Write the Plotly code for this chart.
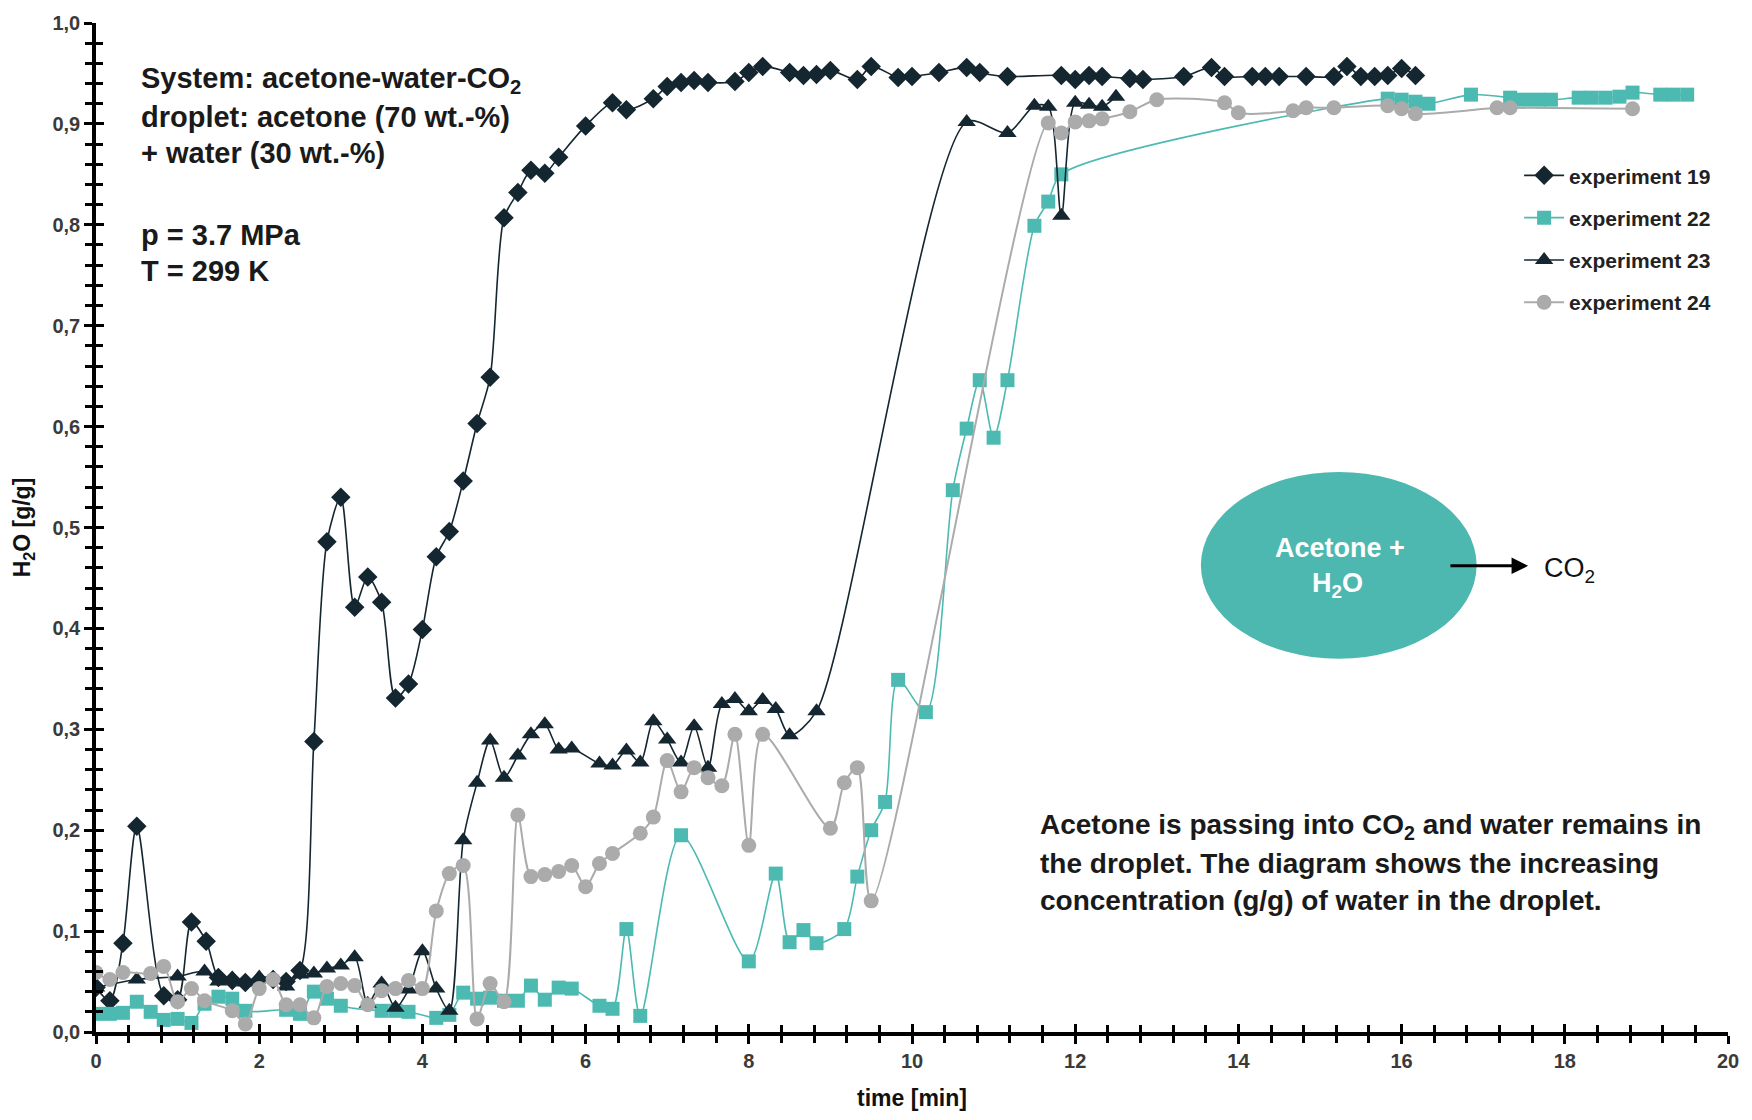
import plotly.graph_objects as go

# ---------------- data ----------------
exp19_t = [0.0, 0.17, 0.33, 0.5, 0.83, 1.0, 1.17, 1.35, 1.5, 1.67, 1.83, 2.0, 2.17, 2.33, 2.5,
           2.67, 2.83, 3.0, 3.17, 3.33, 3.5, 3.67, 3.83, 4.0, 4.17, 4.33, 4.5, 4.67, 4.83, 5.0,
           5.17, 5.33, 5.5, 5.67, 6.0, 6.33, 6.5, 6.83, 7.0, 7.17, 7.33, 7.5, 7.83, 8.0, 8.17,
           8.5, 8.67, 8.83, 9.0, 9.33, 9.5, 9.83, 10.0, 10.33, 10.67, 10.83, 11.17, 11.83, 12.0,
           12.17, 12.33, 12.67, 12.83, 13.33, 13.67, 13.83, 14.17, 14.33, 14.5, 14.83, 15.17,
           15.33, 15.5, 15.67, 15.83, 16.0, 16.17]
exp19_y = [0.044, 0.031, 0.088, 0.204, 0.036, 0.032, 0.109, 0.090, 0.054, 0.051, 0.049, 0.051, 0.052, 0.050, 0.061,
           0.288, 0.486, 0.530, 0.421, 0.451, 0.426, 0.331, 0.345, 0.399, 0.471, 0.496, 0.546, 0.603, 0.649, 0.807,
           0.832, 0.854, 0.851, 0.867, 0.898, 0.921, 0.914, 0.925, 0.937, 0.941, 0.943, 0.941, 0.942, 0.951, 0.957,
           0.951, 0.948, 0.949, 0.953, 0.944, 0.957, 0.946, 0.947, 0.951, 0.956, 0.951, 0.947, 0.948, 0.944,
           0.948, 0.947, 0.945, 0.944, 0.947, 0.956, 0.947, 0.947, 0.947, 0.947, 0.947, 0.947,
           0.957, 0.947, 0.947, 0.948, 0.955, 0.948]

exp22_t = [0.0, 0.17, 0.33, 0.5, 0.67, 0.83, 1.0, 1.17, 1.33, 1.5, 1.67, 1.83, 2.33, 2.5, 2.67, 2.83,
           3.0, 3.5, 3.67, 3.83, 4.17, 4.33, 4.5, 4.67, 4.83, 5.0, 5.17, 5.33, 5.5, 5.67, 5.83,
           6.17, 6.33, 6.5, 6.67, 7.17, 8.0, 8.33, 8.5, 8.67, 8.83, 9.17, 9.33, 9.5, 9.67, 9.83,
           10.17, 10.5, 10.67, 10.83, 11.0, 11.17, 11.5, 11.67, 11.83, 15.83, 16.0, 16.17, 16.33,
           16.85, 17.33, 17.5, 17.67, 17.83, 18.17, 18.33, 18.5, 18.67, 18.83, 19.17, 19.33, 19.5]
exp22_y = [0.018, 0.018, 0.019, 0.030, 0.020, 0.012, 0.013, 0.009, 0.028, 0.035, 0.033, 0.021, 0.022, 0.018, 0.040, 0.033,
           0.026, 0.021, 0.021, 0.020, 0.014, 0.017, 0.039, 0.033, 0.034, 0.031, 0.031, 0.046, 0.032, 0.044, 0.043,
           0.026, 0.023, 0.102, 0.016, 0.195, 0.070, 0.157, 0.089, 0.101, 0.088, 0.102, 0.154, 0.200, 0.228, 0.349,
           0.317, 0.537, 0.598, 0.646, 0.589, 0.646, 0.799, 0.823, 0.850, 0.925, 0.924, 0.922, 0.920,
           0.929, 0.926, 0.924, 0.924, 0.924, 0.926, 0.926, 0.926, 0.927, 0.931, 0.929, 0.929, 0.929]

exp23_t = [0.0, 0.5, 1.0, 1.33, 1.5, 1.67, 1.83, 2.0, 2.17, 2.33, 2.5, 2.67, 2.83, 3.0, 3.17,
           3.33, 3.5, 3.67, 3.83, 4.0, 4.17, 4.33, 4.5, 4.67, 4.83, 5.0, 5.17, 5.33, 5.5, 5.67,
           5.83, 6.17, 6.33, 6.5, 6.67, 6.83, 7.0, 7.17, 7.33, 7.5, 7.67, 7.83, 8.0, 8.17, 8.33,
           8.5, 8.83, 10.67, 11.17, 11.5, 11.67, 11.83, 12.0, 12.17, 12.33, 12.5]
exp23_y = [0.044, 0.052, 0.055, 0.060, 0.050, 0.053, 0.049, 0.054, 0.053, 0.045, 0.057, 0.058, 0.063, 0.066, 0.074,
           0.028, 0.048, 0.024, 0.042, 0.080, 0.043, 0.021, 0.190, 0.247, 0.289, 0.252, 0.274, 0.295, 0.305, 0.280,
           0.281, 0.266, 0.264, 0.279, 0.267, 0.308, 0.290, 0.267, 0.303, 0.262, 0.325, 0.330, 0.318, 0.329, 0.320,
           0.294, 0.318, 0.902, 0.891, 0.918, 0.917, 0.809, 0.921, 0.919, 0.917, 0.927]

exp24_t = [0.0, 0.17, 0.33, 0.67, 0.83, 1.0, 1.17, 1.33, 1.67, 1.83, 2.0, 2.17, 2.33, 2.5, 2.67,
           2.83, 3.0, 3.17, 3.33, 3.5, 3.67, 3.83, 4.0, 4.17, 4.33, 4.5, 4.67, 4.83, 5.0, 5.17,
           5.33, 5.5, 5.67, 5.83, 6.0, 6.17, 6.33, 6.67, 6.83, 7.0, 7.17, 7.33, 7.5, 7.67, 7.83,
           8.0, 8.17, 9.0, 9.17, 9.33, 9.5, 11.67, 11.83, 12.0, 12.17, 12.33, 12.67, 13.0, 13.83,
           14.0, 14.67, 14.83, 15.17, 15.83, 16.0, 16.17, 17.17, 17.33, 18.83]
exp24_y = [0.059, 0.052, 0.059, 0.058, 0.065, 0.030, 0.043, 0.031, 0.021, 0.008, 0.043, 0.052, 0.027, 0.027, 0.014,
           0.045, 0.048, 0.046, 0.027, 0.041, 0.043, 0.051, 0.043, 0.120, 0.157, 0.165, 0.013, 0.048, 0.030, 0.215,
           0.154, 0.156, 0.159, 0.165, 0.144, 0.167, 0.177, 0.197, 0.213, 0.269, 0.238, 0.262, 0.252, 0.244, 0.295,
           0.185, 0.295, 0.202, 0.247, 0.262, 0.130, 0.901, 0.891, 0.902, 0.903, 0.905, 0.912, 0.924, 0.921,
           0.911, 0.913, 0.916, 0.916, 0.918, 0.915, 0.910, 0.916, 0.916, 0.915]

series_names = ["experiment 19", "experiment 22", "experiment 23", "experiment 24"]
x_ticks = list(range(0, 21, 2))
y_ticks = [i / 10 for i in range(0, 11)]

# ---------------- style ----------------
DARK = "#14262f"
TEAL = "#4dbab1"
GRAY = "#ababab"
FONT = "Liberation Sans Narrow, Arial Narrow, Liberation Sans, Arial, sans-serif"

fig = go.Figure()

styles = [
    (exp19_t, exp19_y, DARK, "diamond", 15, 1.6),
    (exp22_t, exp22_y, TEAL, "square", 14, 1.6),
    (exp23_t, exp23_y, DARK, "triangle-up", 16, 1.6),
    (exp24_t, exp24_y, GRAY, "circle", 15, 2.0),
]
for i, (tx, ty, col, sym, ms, lw) in enumerate(styles):
    fig.add_trace(go.Scatter(
        x=tx, y=ty, name=series_names[i], mode="lines+markers",
        line=dict(color=col, width=lw, shape="spline", smoothing=0.8),
        marker=dict(symbol=sym, size=ms, color=col),
        legendgroup=f"g{i}",
    ))

# empty trace to anchor the overlay axes used for the inward half of the crossing ticks
fig.add_trace(go.Scatter(x=[], y=[], xaxis="x2", yaxis="y2", showlegend=False, hoverinfo="skip"))

tick_font = dict(family=FONT, size=20, color="#3a3a3a", weight="bold")

fig.update_layout(
    width=1752, height=1120,
    margin=dict(l=96, r=24, t=19, b=85),
    paper_bgcolor="white", plot_bgcolor="white",
    separators=", ",
    showlegend=True,
    legend=dict(
        x=0.872, y=0.869, xanchor="left", yanchor="top",
        font=dict(family=FONT, size=21, color="#222222", weight="bold"),
        tracegroupgap=12, itemwidth=40, bgcolor="rgba(0,0,0,0)",
    ),
    xaxis=dict(
        range=[0, 20], tickvals=x_ticks, ticks="outside", ticklen=8, tickwidth=3, tickcolor="black",
        showline=True, linecolor="black", linewidth=3.5, showgrid=False, zeroline=False,
        tickfont=tick_font,
        minor=dict(dtick=0.4, ticks="outside", ticklen=7, tickwidth=2.5, tickcolor="black"),
        title=dict(text="time [min]", font=dict(family=FONT, size=23, color="#111111", weight="bold"), standoff=20),
    ),
    yaxis=dict(
        range=[0, 1.0], tickvals=y_ticks, tickformat=".1f", ticks="outside", ticklen=8, tickwidth=3,
        tickcolor="black", showline=True, linecolor="black", linewidth=3.5, showgrid=False, zeroline=False,
        tickfont=tick_font,
        minor=dict(dtick=0.02, ticks="outside", ticklen=7, tickwidth=2.5, tickcolor="black"),
        title=dict(text="H<sub>2</sub>O [g/g]", font=dict(family=FONT, size=23, color="#111111", weight="bold"), standoff=16),
    ),
    xaxis2=dict(
        matches="x", overlaying="x", anchor="y", side="bottom", tickvals=x_ticks, ticks="inside", ticklen=8,
        tickwidth=3, tickcolor="black", showticklabels=False, showline=False, showgrid=False, zeroline=False,
        minor=dict(dtick=0.4, ticks="inside", ticklen=7, tickwidth=2.5, tickcolor="black"),
    ),
    yaxis2=dict(
        matches="y", overlaying="y", anchor="x", side="left", tickvals=y_ticks, ticks="inside", ticklen=8,
        tickwidth=3, tickcolor="black", showticklabels=False, showline=False, showgrid=False, zeroline=False,
        minor=dict(dtick=0.02, ticks="inside", ticklen=7, tickwidth=2.5, tickcolor="black"),
    ),
)

txt_font = dict(family=FONT, size=29, color="#1a1a1a", weight="bold")

left_lines = [
    ("System: acetone-water-CO<sub>2</sub>", 0.944),
    ("droplet: acetone (70 wt.-%)", 0.907),
    ("+ water (30 wt.-%)", 0.871),
    ("p = 3.7 MPa", 0.790),
    ("T = 299 K", 0.754),
]
for text, yy in left_lines:
    fig.add_annotation(x=0.53, y=yy, xref="x", yref="y", text=text, showarrow=False,
                       xanchor="left", yanchor="middle", font=txt_font)

right_lines = [
    ("Acetone is passing into CO<sub>2</sub> and water remains in", 0.204),
    ("the droplet. The diagram shows the increasing", 0.167),
    ("concentration (g/g) of water in the droplet.", 0.130),
]
for text, yy in right_lines:
    fig.add_annotation(x=11.55, y=yy, xref="x", yref="y", text=text, showarrow=False,
                       xanchor="left", yanchor="middle", font=dict(family=FONT, size=28, color="#1a1a1a", weight="bold"))

# droplet sketch
fig.add_shape(type="circle", xref="x", yref="y", x0=13.54, x1=16.92, y0=0.370, y1=0.555,
              fillcolor="#4db8b0", line=dict(width=0), layer="above")
fig.add_annotation(x=15.24, y=0.480, xref="x", yref="y", text="Acetone +", showarrow=False,
                   font=dict(family=FONT, size=27, color="white", weight="bold"))
fig.add_annotation(x=15.22, y=0.443, xref="x", yref="y", text="H<sub>2</sub>O", showarrow=False,
                   font=dict(family=FONT, size=27, color="white", weight="bold"))
fig.add_annotation(x=17.55, y=0.462, ax=16.58, ay=0.462, xref="x", yref="y", axref="x", ayref="y",
                   text="", showarrow=True, arrowhead=2, arrowsize=1.1, arrowwidth=3, arrowcolor="black")
fig.add_annotation(x=17.72, y=0.458, xref="x", yref="y", text="CO<sub>2</sub>", showarrow=False,
                   xanchor="left", font=dict(family=FONT, size=27, color="#111111"))

fig.write_html("out.html")
